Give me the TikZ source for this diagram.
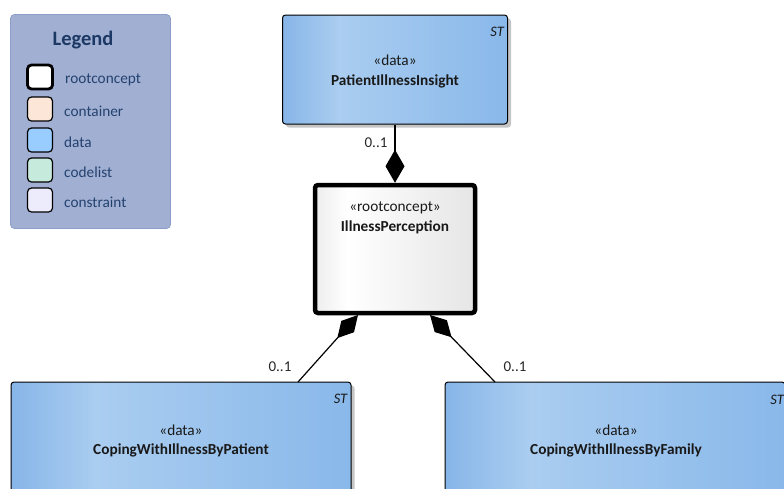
\documentclass[tikz,border=0pt]{standalone}
\usepackage{fontspec}
\setmainfont{Carlito}
\usetikzlibrary{arrows.meta,shadows}
\definecolor{dA}{RGB}{135,181,232}
\definecolor{dB}{RGB}{170,205,240}
\definecolor{dC}{RGB}{137,184,234}
\definecolor{legfill}{RGB}{161,176,210}
\definecolor{legdraw}{RGB}{140,158,200}
\definecolor{legtitle}{RGB}{28,56,100}
\definecolor{legtext}{RGB}{36,66,112}
\definecolor{swcont}{RGB}{251,230,216}
\definecolor{swdata}{RGB}{153,204,255}
\definecolor{swcode}{RGB}{198,235,220}
\definecolor{swcons}{RGB}{236,236,252}
\pgfdeclarehorizontalshading{databox}{100bp}{color(0bp)=(dA); color(25bp)=(dA); color(37.5bp)=(dB); color(75bp)=(dC); color(100bp)=(dC)}
\pgfdeclarehorizontalshading{rootbox}{100bp}{color(0bp)=(white!93!black); color(25bp)=(white!93!black); color(35bp)=(white); color(75bp)=(white!90!black); color(100bp)=(white!90!black)}
\tikzset{
  databoxstyle/.style={draw=black, line width=1pt, rounded corners=3pt, shading=databox, inner sep=0pt,
    drop shadow={shadow xshift=3.5pt, shadow yshift=-3.5pt, fill=black!45, opacity=0.5}},
  rootboxstyle/.style={draw=black, line width=4.5pt, rounded corners=3pt, shading=rootbox, inner sep=0pt,
    minimum width=160pt, minimum height=128pt},
  stereo/.style={font=\fontsize{15.3}{17}\selectfont, text=black!90, inner sep=0pt},
  nametxt/.style={font=\fontsize{15.3}{17}\selectfont\bfseries, text=black!90, inner sep=0pt},
  sttxt/.style={font=\fontsize{14.5}{16}\selectfont\itshape, text=black!90, inner sep=0pt, anchor=east},
  mult/.style={font=\fontsize{15}{17}\selectfont, text=black!85, inner sep=0pt},
  conn/.style={line width=1.2pt, draw=black},
  legitem/.style={font=\fontsize{15.3}{17}\selectfont, text=legtext, anchor=west, inner sep=0pt},
  swatch/.style={draw=black, line width=1.2pt, rounded corners=4pt, minimum width=25pt, minimum height=24pt, inner sep=0pt}
}
\begin{document}
\begin{tikzpicture}[x=1pt,y=-1pt]
\useasboundingbox (0,0) rectangle (784,488);
% legend
\node[draw=legdraw, fill=legfill, rounded corners=4pt, line width=0.8pt, minimum width=160pt, minimum height=214pt, inner sep=0pt] (legend) at (90.5,121.5) {};
\node[font=\fontsize{20.5}{23}\selectfont\bfseries, text=legtitle, inner sep=0pt] (legtitle) at (83,40) {Legend};
\node[swatch, fill=white, line width=2.8pt] (sw1) at (40,77) {};
\node[swatch, fill=swcont] (sw2) at (40,109) {};
\node[swatch, fill=swdata] (sw3) at (40,140) {};
\node[swatch, fill=swcode] (sw4) at (40,170) {};
\node[swatch, fill=swcons] (sw5) at (40,200) {};
\node[legitem] (lt1) at (65,79.5) {rootconcept};
\node[legitem] (lt2) at (64,111) {container};
\node[legitem] (lt3) at (64,142) {data};
\node[legitem] (lt4) at (64,172.5) {codelist};
\node[legitem] (lt5) at (64,202) {constraint};
% top box
\node[databoxstyle, minimum width=225pt, minimum height=109pt] (pii) at (395,69.5) {};
\node[sttxt] (pist) at ([xshift=-4pt,yshift=-17pt]pii.north east) {ST};
\node[stereo] (pis) at ([yshift=-46pt]pii.north) {«data»};
\node[nametxt] (pin) at ([yshift=-67pt]pii.north) {PatientIllnessInsight};
% root
\node[rootboxstyle] (root) at (395,249) {};
\node[stereo] (rs) at ([yshift=-25pt]root.north) {«rootconcept»};
\node[nametxt] (rn) at ([yshift=-45pt]root.north) {IllnessPerception};
% bottom left
\node[databoxstyle, minimum width=340pt, minimum height=150pt] (cwp) at (181,457) {};
\node[sttxt] (cwpst) at ([xshift=-4pt,yshift=-17pt]cwp.north east) {ST};
\node[stereo] (cwps) at (181,430) {«data»};
\node[nametxt] (cwpn) at (181,450) {CopingWithIllnessByPatient};
% bottom right
\node[databoxstyle, minimum width=340pt, minimum height=150pt] (cwf) at (615,457) {};
\node[sttxt] (cwfst) at (784,400) {ST};
\node[stereo] (cwfs) at (616,430) {«data»};
\node[nametxt] (cwfn) at (616,450) {CopingWithIllnessByFamily};
% connectors
\coordinate (l1) at (298,382);
\coordinate (l2) at (358,315);
\coordinate (r1) at (495,382);
\coordinate (r2) at (430,315);
\draw[conn, -{Diamond[length=33pt,width=19pt,fill=black]}] (pii.south) -- (root.north);
\draw[conn, -{Diamond[length=31pt,width=17pt,fill=black]}] (l1) -- (l2);
\draw[conn, -{Diamond[length=31pt,width=17pt,fill=black]}] (r1) -- (r2);
\node[mult] (m1) at (376,143) {0..1};
\node[mult] (m2) at (280,367) {0..1};
\node[mult] (m3) at (515,367) {0..1};
\end{tikzpicture}
\end{document}
